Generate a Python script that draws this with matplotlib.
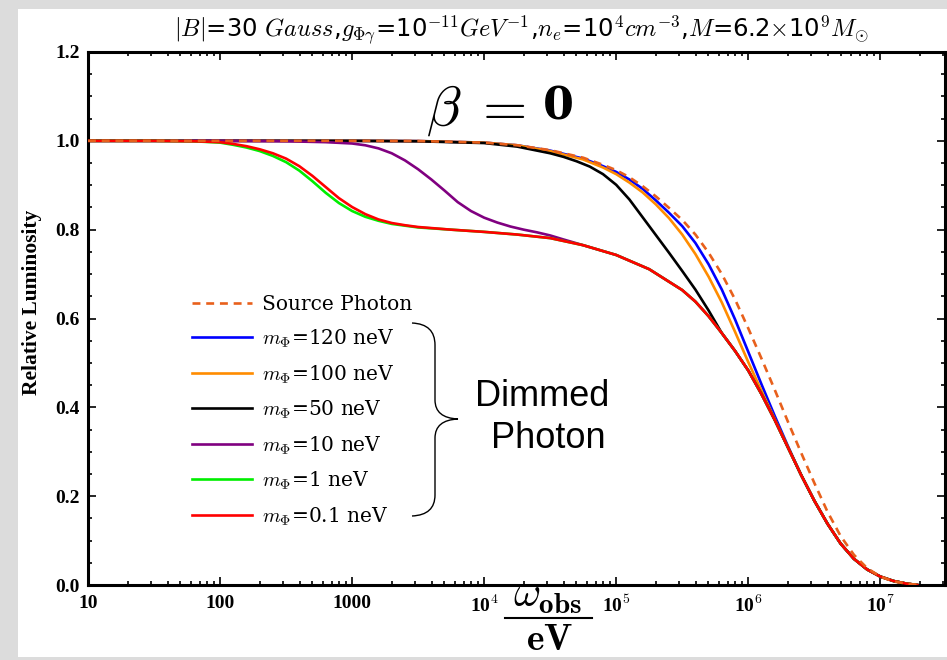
import numpy as np
import matplotlib
matplotlib.use('Agg')
import matplotlib.pyplot as plt
from matplotlib.path import Path
from matplotlib.patches import PathPatch, Rectangle
from matplotlib.lines import Line2D
from matplotlib.ticker import FixedLocator, LogLocator, MultipleLocator, NullFormatter

plt.rcParams['mathtext.fontset'] = 'cm'

# ---- data: log10(omega_obs/eV) and relative luminosity ----
src_logw = [1.0, 3.0, 3.5, 4.0, 4.25, 4.5, 4.75, 4.9, 5.0, 5.1, 5.2, 5.3, 5.4, 5.5, 5.6, 5.7,
            5.8, 5.9, 6.0, 6.1, 6.2, 6.3, 6.4, 6.5, 6.6, 6.7, 6.8, 6.9, 7.0, 7.1, 7.2, 7.3]
src_lum = [1.0, 1.0, 0.9995, 0.996, 0.99, 0.979, 0.962, 0.946, 0.934, 0.918, 0.898, 0.875,
           0.849, 0.822, 0.789, 0.748, 0.70, 0.643, 0.578, 0.51, 0.44, 0.368, 0.298, 0.23,
           0.165, 0.11, 0.068, 0.038, 0.019, 0.008, 0.003, 0.0]

m120_logw = [1.0, 3.0, 3.5, 4.0, 4.25, 4.5, 4.75, 4.9, 5.0, 5.1, 5.2, 5.3, 5.4, 5.5, 5.6, 5.7,
             5.8, 5.9, 6.0, 6.1, 6.2, 6.3, 6.4, 6.5, 6.6, 6.7, 6.8, 6.9, 7.0, 7.1, 7.2, 7.28]
m120_lum = [1.0, 1.0, 0.9995, 0.996, 0.99, 0.978, 0.96, 0.943, 0.930, 0.913, 0.892, 0.866,
            0.838, 0.808, 0.77, 0.722, 0.665, 0.598, 0.525, 0.452, 0.381, 0.313, 0.248, 0.19,
            0.138, 0.093, 0.059, 0.035, 0.019, 0.009, 0.003, 0.0]

m100_logw = [1.0, 3.0, 3.5, 4.0, 4.25, 4.5, 4.75, 4.9, 5.0, 5.1, 5.2, 5.3, 5.4, 5.5, 5.6, 5.7,
             5.8, 5.9, 6.0, 6.1, 6.2, 6.3, 6.4, 6.5, 6.6, 6.7, 6.8, 6.9, 7.0, 7.1, 7.2, 7.28]
m100_lum = [1.0, 1.0, 0.9995, 0.996, 0.99, 0.977, 0.958, 0.94, 0.925, 0.906, 0.884, 0.857,
            0.826, 0.789, 0.745, 0.694, 0.636, 0.57, 0.502, 0.437, 0.374, 0.311, 0.248, 0.19,
            0.138, 0.093, 0.059, 0.035, 0.019, 0.009, 0.003, 0.0]

m50_logw = [1.0, 3.0, 3.5, 4.0, 4.25, 4.5, 4.6, 4.7, 4.8, 4.9, 5.0, 5.1, 5.2, 5.3, 5.4, 5.5,
            5.6, 5.7, 5.8, 5.9, 6.0, 6.1, 6.2, 6.3, 6.4, 6.5, 6.6, 6.7, 6.8, 6.9, 7.0, 7.1,
            7.2, 7.28]
m50_lum = [1.0, 1.0, 0.999, 0.995, 0.987, 0.972, 0.964, 0.954, 0.942, 0.925, 0.901, 0.868,
           0.828, 0.788, 0.748, 0.707, 0.665, 0.618, 0.567, 0.527, 0.483, 0.43, 0.372, 0.31,
           0.248, 0.19, 0.138, 0.093, 0.059, 0.035, 0.019, 0.009, 0.003, 0.0]

m10_logw = [1.0, 2.0, 2.5, 2.8, 3.0, 3.1, 3.2, 3.3, 3.4, 3.5, 3.6, 3.7, 3.8, 3.9, 4.0, 4.1,
            4.2, 4.3, 4.4, 4.5, 4.6, 4.75, 5.0, 5.25, 5.5, 5.6, 5.7, 5.8, 5.9, 6.0, 6.1, 6.2,
            6.3, 6.4, 6.5, 6.6, 6.7, 6.8, 6.9, 7.0, 7.1, 7.2, 7.28]
m10_lum = [1.0, 1.0, 0.999, 0.997, 0.994, 0.99, 0.983, 0.972, 0.956, 0.936, 0.913, 0.888,
           0.862, 0.842, 0.827, 0.816, 0.807, 0.80, 0.794, 0.787, 0.778, 0.765, 0.743, 0.711,
           0.664, 0.638, 0.605, 0.567, 0.527, 0.483, 0.43, 0.372, 0.31, 0.248, 0.19, 0.138,
           0.093, 0.059, 0.035, 0.019, 0.009, 0.003, 0.0]

m1_logw = [1.0, 1.5, 1.8, 2.0, 2.1, 2.2, 2.3, 2.4, 2.5, 2.6, 2.7, 2.8, 2.9, 3.0, 3.1, 3.2,
           3.3, 3.4, 3.5, 3.75, 4.0, 4.25, 4.5, 4.75, 5.0, 5.25, 5.5, 5.6, 5.7, 5.8, 5.9, 6.0,
           6.1, 6.2, 6.3, 6.4, 6.5, 6.6, 6.7, 6.8, 6.9, 7.0, 7.1, 7.2, 7.28]
m1_lum = [1.0, 1.0, 0.999, 0.996, 0.991, 0.985, 0.977, 0.966, 0.952, 0.933, 0.909, 0.883,
          0.86, 0.842, 0.829, 0.82, 0.813, 0.809, 0.805, 0.80, 0.795, 0.789, 0.781, 0.765,
          0.743, 0.711, 0.664, 0.638, 0.605, 0.567, 0.527, 0.483, 0.43, 0.372, 0.31, 0.248,
          0.19, 0.138, 0.093, 0.059, 0.035, 0.019, 0.009, 0.003, 0.0]

m01_logw = [1.0, 1.5, 1.8, 2.0, 2.1, 2.2, 2.3, 2.4, 2.5, 2.6, 2.7, 2.8, 2.9, 3.0, 3.1, 3.2,
            3.3, 3.4, 3.5, 3.75, 4.0, 4.25, 4.5, 4.75, 5.0, 5.25, 5.5, 5.6, 5.7, 5.8, 5.9, 6.0,
            6.1, 6.2, 6.3, 6.4, 6.5, 6.6, 6.7, 6.8, 6.9, 7.0, 7.1, 7.2, 7.28]
m01_lum = [1.0, 1.0, 0.999, 0.997, 0.993, 0.988, 0.981, 0.972, 0.96, 0.943, 0.921, 0.896,
           0.871, 0.851, 0.835, 0.823, 0.815, 0.81, 0.806, 0.80, 0.795, 0.789, 0.781, 0.765,
           0.743, 0.711, 0.664, 0.638, 0.605, 0.567, 0.527, 0.483, 0.43, 0.372, 0.31, 0.248,
           0.19, 0.138, 0.093, 0.059, 0.035, 0.019, 0.009, 0.003, 0.0]

series_labels = ['Source Photon', r'$m_{\Phi}$=120 neV', r'$m_{\Phi}$=100 neV', r'$m_{\Phi}$=50 neV',
                 r'$m_{\Phi}$=10 neV', r'$m_{\Phi}$=1 neV', r'$m_{\Phi}$=0.1 neV']
series_colors = ['#e8601c', '#0000ff', '#ff8c00', '#000000', '#800080', '#00ee00', '#ff0000']

xtick_vals = [10, 100, 1000, 1e4, 1e5, 1e6, 1e7]
xtick_labels = ['10', '100', '1000', r'10$^{\mathbf{4}}$', r'10$^{\mathbf{5}}$',
                r'10$^{\mathbf{6}}$', r'10$^{\mathbf{7}}$']
ytick_vals = [0.0, 0.2, 0.4, 0.6, 0.8, 1.0, 1.2]
ytick_labels = ['0.0', '0.2', '0.4', '0.6', '0.8', '1.0', '1.2']

W, H = 947, 660
fig = plt.figure(figsize=(W / 100, H / 100), dpi=100)
fig.patch.set_facecolor('#dcdcdc')
fig.add_artist(Rectangle((18 / W, 1 - 657 / H), (W - 18) / W, (657 - 9) / H,
                         transform=fig.transFigure, facecolor='white', edgecolor='none', zorder=0))


def fx(px):
    return px / W


def fy(py):
    return 1 - py / H


ax = fig.add_axes([fx(88), fy(585), (945 - 88) / W, (585 - 52) / H])
ax.set_facecolor('white')

all_logw = [src_logw, m120_logw, m100_logw, m50_logw, m10_logw, m1_logw, m01_logw]
all_lum = [src_lum, m120_lum, m100_lum, m50_lum, m10_lum, m1_lum, m01_lum]
handles = []
for i, (lw_, lum, lab, col) in enumerate(zip(all_logw, all_lum, series_labels, series_colors)):
    x = 10 ** np.array(lw_)
    if i == 0:
        h, = ax.plot(x, lum, color=col, lw=1.9, ls=(0, (3, 2.2)), label=lab, zorder=5)
    else:
        h, = ax.plot(x, lum, color=col, lw=1.9, label=lab, zorder=2 + i * 0.1,
                     solid_joinstyle='round')
    handles.append(h)

ax.set_xscale('log')
ax.set_xlim(10, 10 ** 7.49)
ax.set_ylim(0, 1.2)

ax.xaxis.set_major_locator(FixedLocator(xtick_vals))
ax.set_xticklabels(xtick_labels)
ax.xaxis.set_minor_locator(LogLocator(base=10, subs=np.arange(2, 10)))
ax.xaxis.set_minor_formatter(NullFormatter())
ax.set_yticks(ytick_vals)
ax.set_yticklabels(ytick_labels)
ax.yaxis.set_minor_locator(MultipleLocator(0.05))

for lab in ax.get_xticklabels() + ax.get_yticklabels():
    lab.set_fontfamily('Liberation Serif')
    lab.set_fontweight('bold')
    lab.set_fontsize(14)

ax.tick_params(which='both', direction='in', top=True, right=True, width=1.2, colors='black')
ax.tick_params(which='major', length=5.5)
ax.tick_params(which='minor', length=3)
ax.tick_params(axis='x', which='major', pad=7)
ax.tick_params(axis='y', which='major', pad=6)
for s in ax.spines.values():
    s.set_linewidth(2.2)

fig.text(fx(32), fy(302), 'Relative Luminosity', rotation=90, ha='center', va='center',
         fontfamily='Liberation Serif', fontweight='bold', fontsize=15.5)

fig.text(fx(521), fy(30),
         r'$|B|$=30 $Gauss$,$g_{\Phi\gamma}$=10$^{-11}$$GeV^{-1}$,$n_e$=10$^4$$cm^{-3}$,'
         r'$M$=6.2$\times$10$^9$$M_{\odot}$',
         ha='center', va='center', fontsize=17.5, fontfamily='DejaVu Sans')

fig.text(fx(476), fy(110), r'$\beta\;=$', ha='center', va='center', fontsize=41)
fig.text(fx(558), fy(107), '0', ha='center', va='center', fontsize=32,
         fontfamily='DejaVu Serif', fontweight='bold')

# x-axis label as a built-up fraction  omega_obs / eV
fig.text(fx(548), fy(616), r'$\omega_{\mathbf{obs}}$', ha='center', va='bottom', fontsize=30)
fig.add_artist(Line2D([fx(505), fx(592)], [fy(618), fy(618)], transform=fig.transFigure,
                      color='black', lw=1.5))
fig.text(fx(549), fy(622), r'$\mathbf{eV}$', ha='center', va='top', fontsize=27)

leg = ax.legend(handles=handles, loc='upper left', bbox_to_anchor=(fx(192), fy(295)),
                bbox_transform=fig.transFigure, frameon=False, borderpad=0, borderaxespad=0,
                handlelength=3.0, handletextpad=0.5, labelspacing=0.675,
                prop={'family': 'DejaVu Serif', 'size': 14.5})

# curly brace
verts = [(412, 323), (435, 324), (435, 345), (435, 400), (435, 418), (458, 419),
         (435, 420), (435, 438), (435, 495), (435, 515), (412, 516)]
codes = [Path.MOVETO, Path.CURVE3, Path.CURVE3, Path.LINETO, Path.CURVE3, Path.CURVE3,
         Path.CURVE3, Path.CURVE3, Path.LINETO, Path.CURVE3, Path.CURVE3]
path = Path([(fx(a), fy(b)) for a, b in verts], codes)
fig.add_artist(PathPatch(path, transform=fig.transFigure, fill=False, lw=1.0, color='black'))

fig.text(fx(542), fy(397), 'Dimmed', ha='center', va='center', fontsize=26,
         fontfamily='Liberation Sans')
fig.text(fx(548), fy(438), 'Photon', ha='center', va='center', fontsize=26,
         fontfamily='Liberation Sans')

fig.savefig('out.png', dpi=100, facecolor=fig.get_facecolor())
